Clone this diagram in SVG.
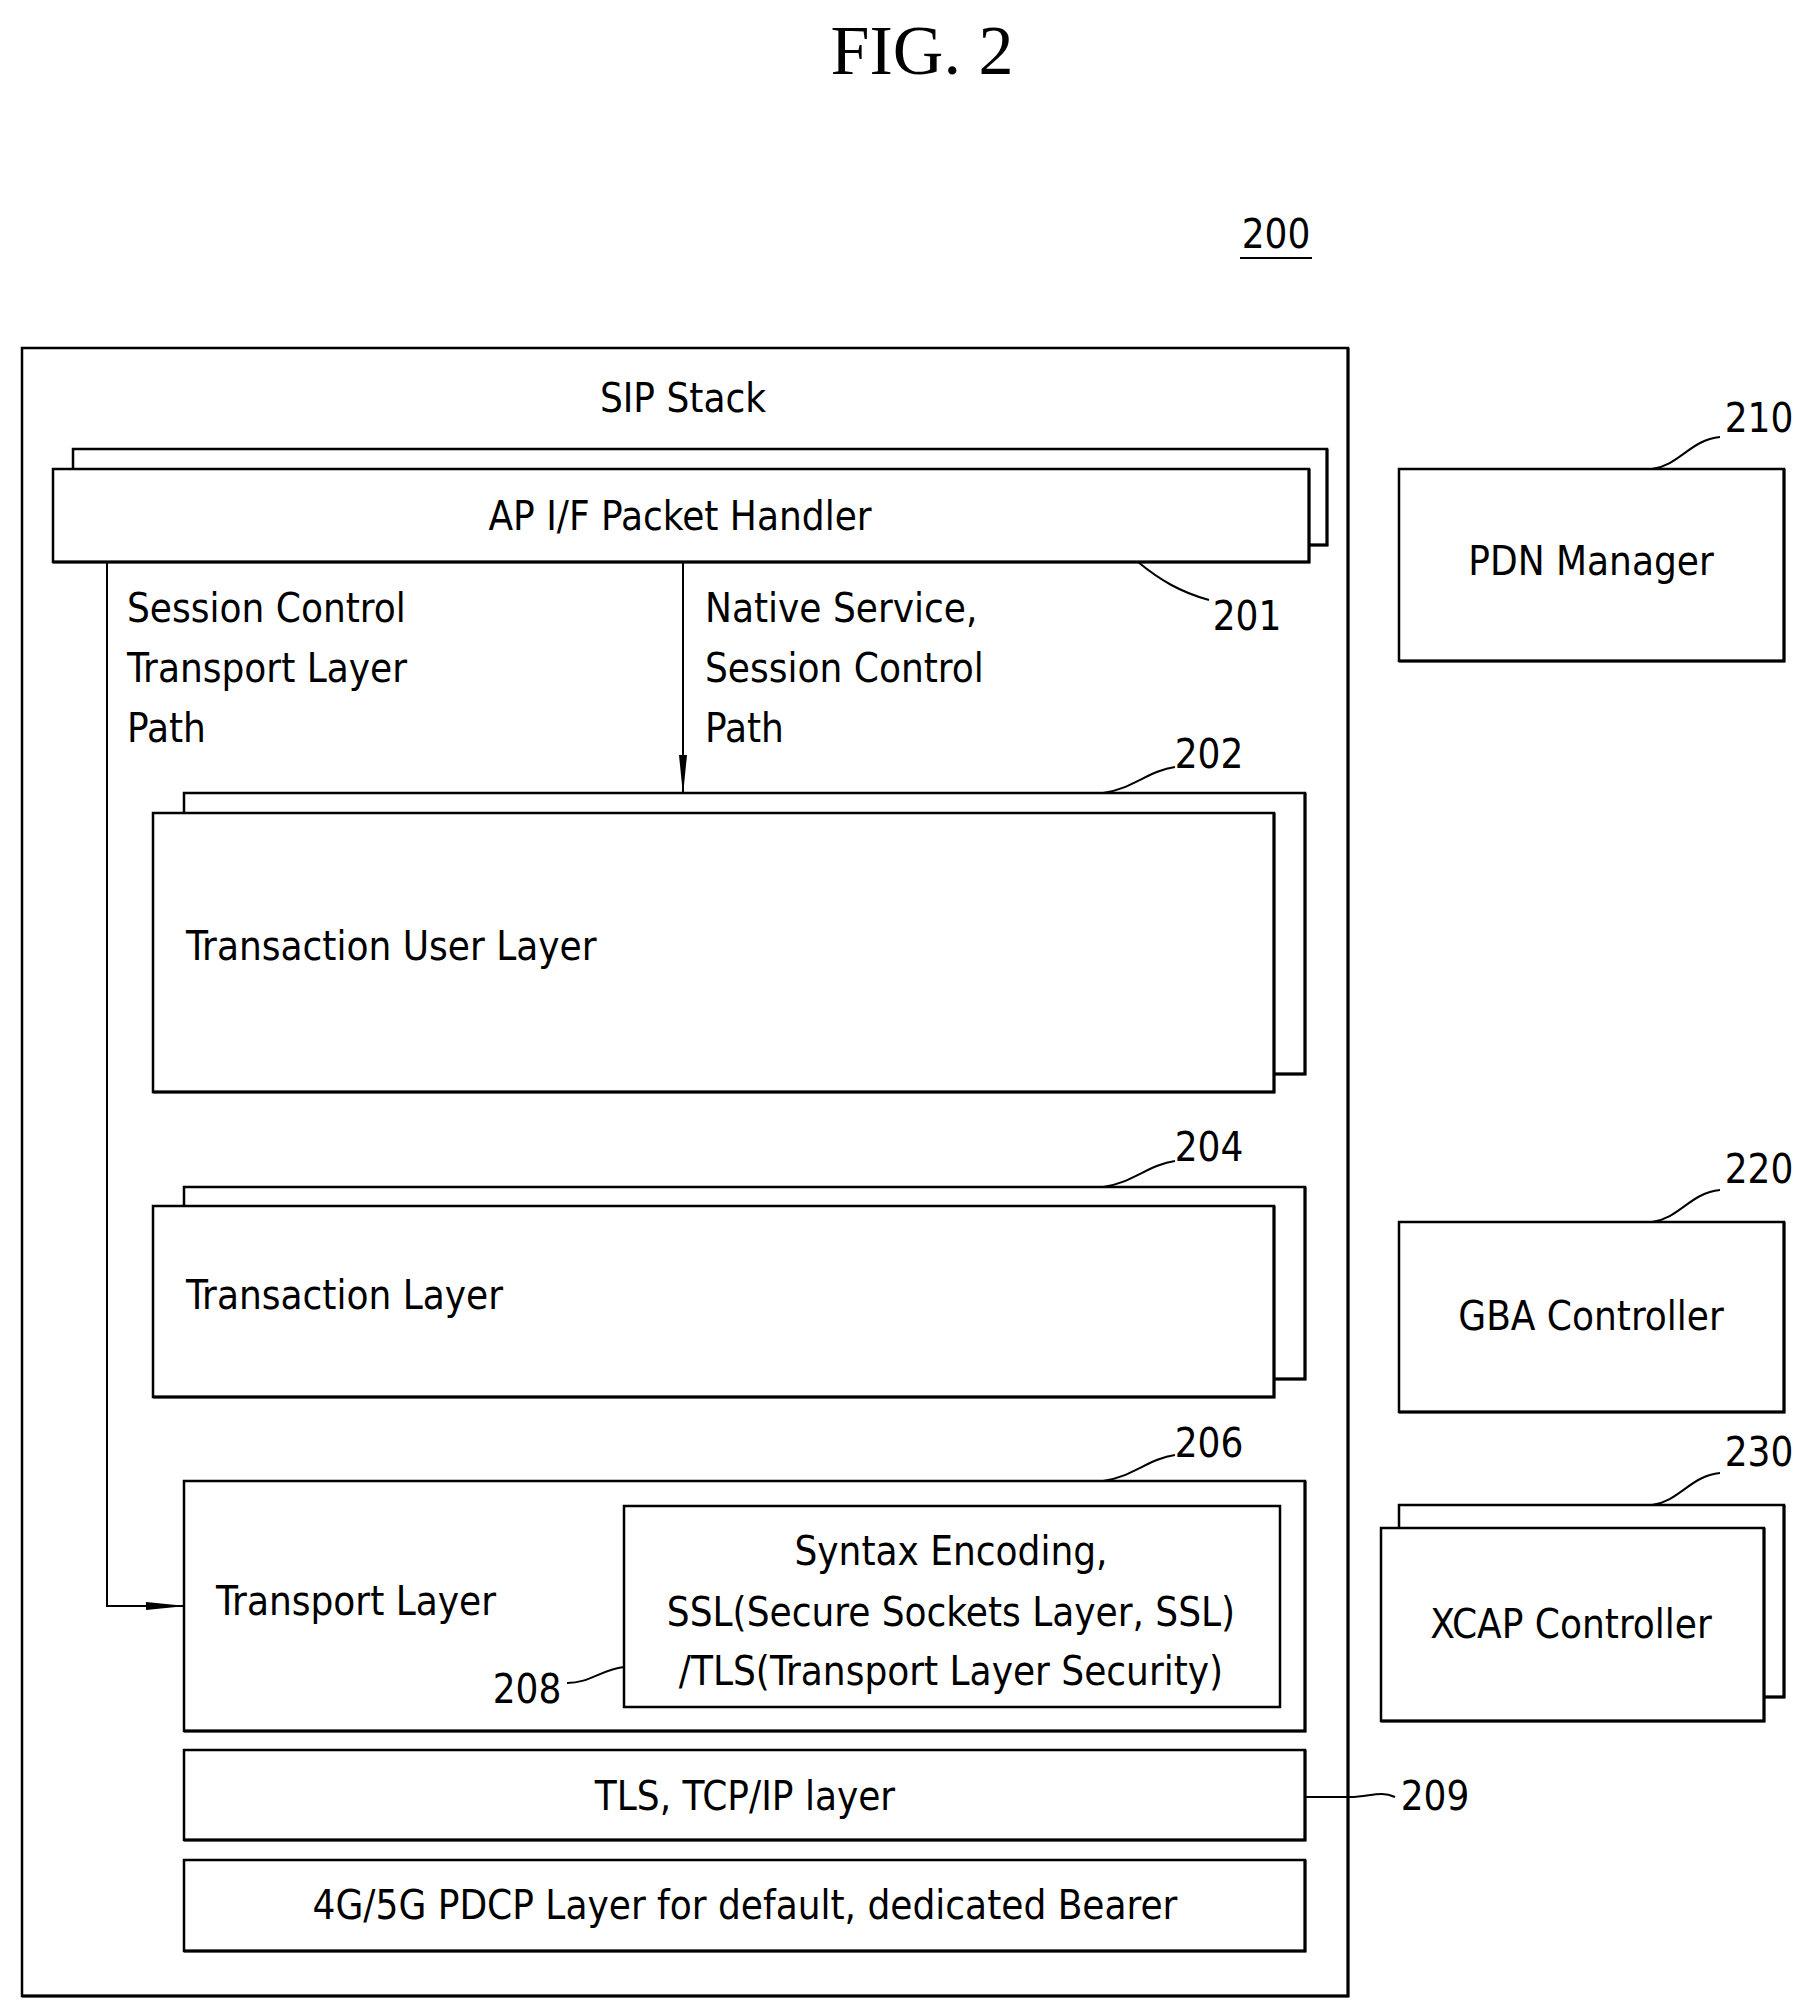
<svg xmlns="http://www.w3.org/2000/svg" width="1813" height="2013" viewBox="0 0 1813 2013">
<defs>
<style>
rect{fill:#fff;stroke:#000;stroke-width:2.5}
.sh{fill:none;stroke:#000;stroke-width:3}
text{font-family:"DejaVu Sans Condensed","Liberation Sans Narrow","Liberation Sans",sans-serif;font-size:40px;fill:#000}
.c{text-anchor:middle}
.ld{fill:none;stroke:#000;stroke-width:2}
</style>
<marker id="ah" markerWidth="12" markerHeight="10" refX="11" refY="5" orient="auto" markerUnits="userSpaceOnUse" viewBox="0 0 12 10"><path d="M0,0 L12,5 L0,10 Z" fill="#000"/></marker>
<marker id="av" markerWidth="40" markerHeight="12" refX="38" refY="6" orient="auto" markerUnits="userSpaceOnUse" viewBox="0 0 40 12"><path d="M0,2 L40,6 L0,10 Z" fill="#000"/></marker>
</defs>
<rect width="1813" height="2013" style="stroke:none"/>
<text x="922" y="74" class="c" style="font-family:'Liberation Serif',serif;font-size:70px">FIG.  2</text>
<text x="1276" y="248" class="c">200</text>
<line x1="1240" y1="258" x2="1312" y2="258" class="ld"/>

<g id="sip-stack">
<rect x="22" y="348" width="1326" height="1648"/>
<path class="sh" d="M1348,348 V1996 H22"/>
<text x="683" y="412" class="c">SIP Stack</text>
</g>

<g id="ap-handler">
<rect x="73" y="449" width="1254" height="96"/>
<path class="sh" d="M1327,449 V545 H1309"/>
<rect x="53" y="469" width="1256" height="93"/>
<path class="sh" d="M1309,469 V562 H53"/>
<text x="680" y="530" class="c">AP I/F Packet Handler</text>
<text x="1247" y="630" class="c">201</text>
<path class="ld" d="M1138,562 C1160,580 1180,592 1209,600"/>
</g>

<g id="connectors">
<polyline points="107,562 107,1606 184,1606" class="ld" marker-end="url(#av)"/>
<line x1="683" y1="562" x2="683" y2="793" class="ld" marker-end="url(#av)"/>
<text x="127" y="622">Session Control</text>
<text x="127" y="682">Transport Layer</text>
<text x="127" y="742">Path</text>
<text x="705" y="622">Native Service,</text>
<text x="705" y="682">Session Control</text>
<text x="705" y="742">Path</text>
</g>

<g id="tu-layer">
<rect x="184" y="793" width="1121" height="281"/>
<path class="sh" d="M1305,793 V1074 H1274"/>
<rect x="153" y="813" width="1121" height="279"/>
<path class="sh" d="M1274,813 V1092 H153"/>
<text x="186" y="960">Transaction User Layer</text>
<text x="1209" y="768" class="c">202</text>
<path class="ld" d="M1103,793 C1130,790 1150,770 1175,767"/>
</g>

<g id="t-layer">
<rect x="184" y="1187" width="1121" height="192"/>
<path class="sh" d="M1305,1187 V1379 H1274"/>
<rect x="153" y="1206" width="1121" height="191"/>
<path class="sh" d="M1274,1206 V1397 H153"/>
<text x="186" y="1309">Transaction Layer</text>
<text x="1209" y="1161" class="c">204</text>
<path class="ld" d="M1103,1187 C1130,1184 1150,1164 1175,1161"/>
</g>

<g id="transport-layer">
<rect x="184" y="1481" width="1121" height="250"/>
<path class="sh" d="M1305,1481 V1731 H184"/>
<text x="216" y="1615">Transport Layer</text>
<text x="1209" y="1457" class="c">206</text>
<path class="ld" d="M1103,1481 C1130,1478 1150,1458 1175,1455"/>
</g>

<g id="ssl-tls">
<rect x="624" y="1506" width="656" height="201"/>
<text x="951" y="1565" class="c">Syntax Encoding,</text>
<text x="951" y="1626" class="c">SSL(Secure Sockets Layer, SSL)</text>
<text x="951" y="1685" class="c">/TLS(Transport Layer Security)</text>
<text x="527" y="1703" class="c">208</text>
<path class="ld" d="M624,1667 C600,1670 590,1683 567,1683"/>
</g>

<g id="tls-tcp">
<rect x="184" y="1750" width="1121" height="90"/>
<path class="sh" d="M1305,1750 V1840 H184"/>
<text x="745" y="1810" class="c">TLS, TCP/IP layer</text>
<text x="1435" y="1810" class="c">209</text>
<path class="ld" d="M1305,1797 H1350 C1370,1797 1380,1790 1395,1797"/>
</g>

<g id="pdcp">
<rect x="184" y="1860" width="1121" height="91"/>
<path class="sh" d="M1305,1860 V1951 H184"/>
<text x="745" y="1919" class="c">4G/5G PDCP Layer for default, dedicated Bearer</text>
</g>

<g id="pdn-manager">
<rect x="1399" y="469" width="385" height="192"/>
<path class="sh" d="M1784,469 V661 H1399"/>
<text x="1591" y="575" class="c">PDN Manager</text>
<text x="1759" y="432" class="c">210</text>
<path class="ld" d="M1652,469 C1680,465 1690,440 1720,437"/>
</g>

<g id="gba-controller">
<rect x="1399" y="1222" width="385" height="190"/>
<path class="sh" d="M1784,1222 V1412 H1399"/>
<text x="1591" y="1330" class="c">GBA Controller</text>
<text x="1759" y="1183" class="c">220</text>
<path class="ld" d="M1652,1222 C1680,1218 1690,1193 1720,1190"/>
</g>

<g id="xcap-controller">
<rect x="1399" y="1505" width="385" height="192"/>
<path class="sh" d="M1784,1505 V1697 H1764"/>
<rect x="1381" y="1528" width="383" height="193"/>
<path class="sh" d="M1764,1528 V1721 H1381"/>
<text x="1571" y="1638" class="c">XCAP Controller</text>
<text x="1759" y="1466" class="c">230</text>
<path class="ld" d="M1652,1505 C1680,1501 1690,1476 1720,1473"/>
</g>
</svg>
